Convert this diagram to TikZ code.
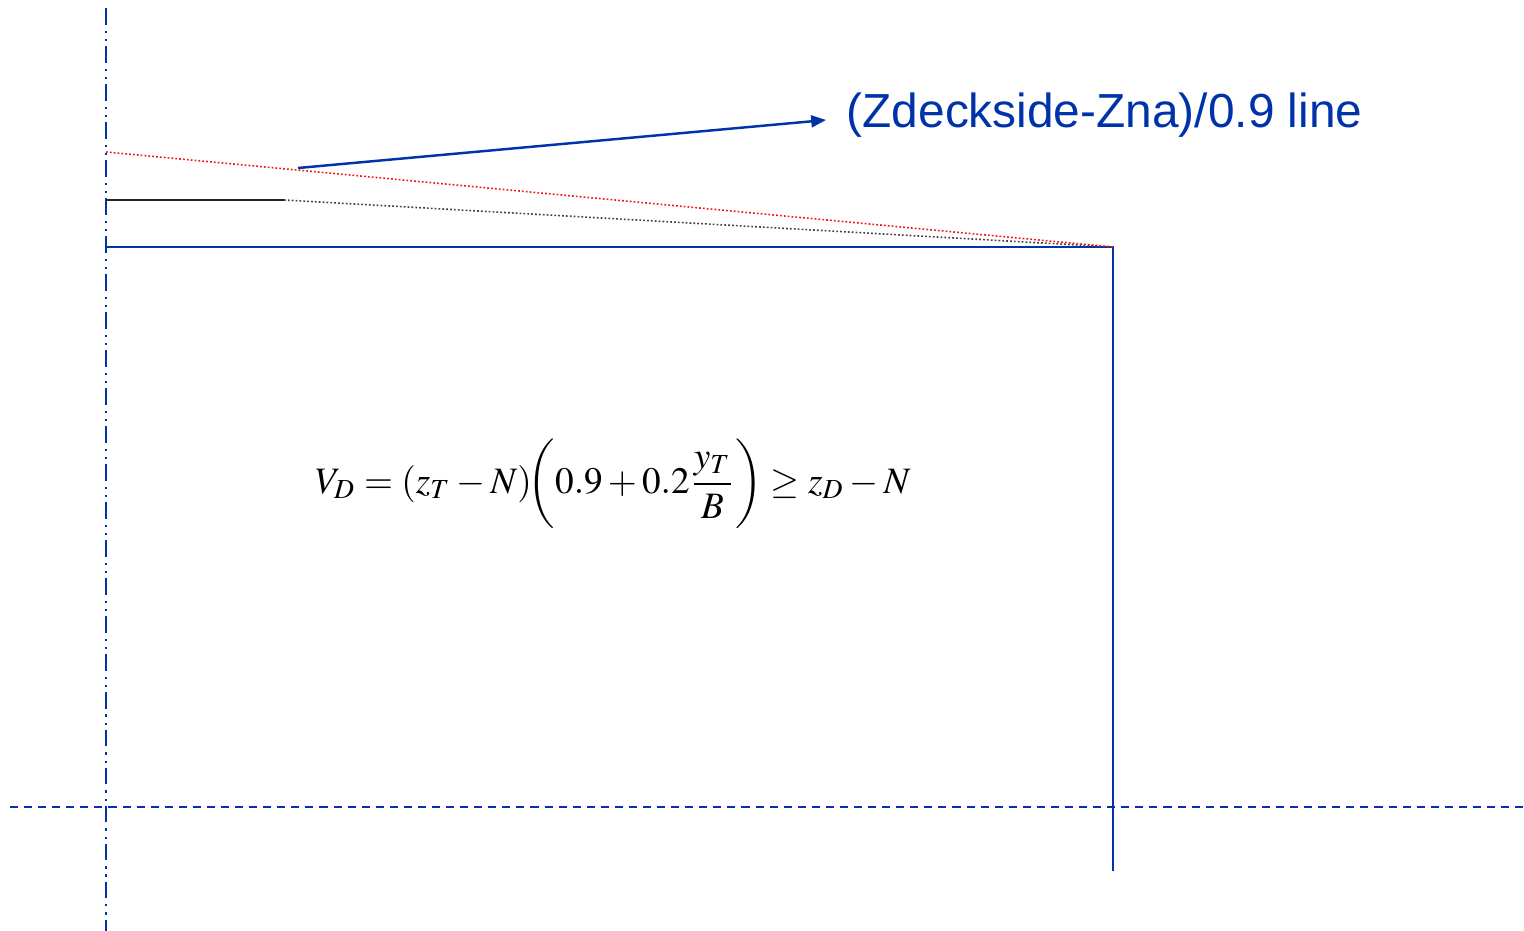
\documentclass[tikz,border=0pt]{standalone}
\usepackage{amsmath,amssymb}
\usepackage{mathptmx}
\usepackage[no-math]{fontspec}
\newfontfamily\arialfont{Liberation Sans}
\usetikzlibrary{
    positioning,                      % right=of, below=of, etc.
    arrows.meta                       % puntas modernas (Stealth, Latex, etc.)
}
\definecolor{hullblue}{RGB}{0,51,170}
\definecolor{sheerred}{RGB}{240,20,20}
\tikzset{
    hull/.style={
        draw=hullblue, line width=0.6pt
    },
    centreline/.style={
        draw=hullblue, line width=0.6pt,
        dash pattern=on 4.8pt off 1.7pt on 0.6pt off 1.7pt on 0.6pt off 1.4pt
    },
    waterline/.style={
        draw=hullblue, line width=0.6pt,
        dash pattern=on 2.3pt off 1.7pt
    },
    deckline/.style={
        draw=black!85, line width=0.45pt
    },
    fineline/.style={
        line width=0.45pt, dash pattern=on 0.5pt off 0.6pt
    },
    pointer/.style={
        -{Triangle[length=4.2pt, width=3.4pt]}, draw=hullblue, line width=0.7pt
    },
    tag/.style={
        font=\arialfont\fontsize{13.6}{16}\selectfont, text=hullblue,
        inner sep=0pt, anchor=west
    }
}

\begin{document}
\begin{tikzpicture}[x=0.01cm, y=-0.01cm]
    \useasboundingbox (0,0) rectangle (1524,931);

    % puntos del casco
    \coordinate (cl top)   at (106,8);
    \coordinate (cl bot)   at (106,931);
    \coordinate (deck cl)  at (106,247);
    \coordinate (corner)   at (1113,247);
    \coordinate (side bot) at (1113,871);
    \coordinate (wl left)  at (10,807);
    \coordinate (wl right) at (1524,807);
    \coordinate (dk cl)    at (106,200);
    \coordinate (dk end)   at (284,200);
    \coordinate (lim cl)   at (106,152);
    \coordinate (ptr)      at (298,168);

    % ejes
    \draw[centreline] (cl top) -- (cl bot);
    \draw[waterline]  (wl left) -- (wl right);

    % contorno de cubierta y costado
    \draw[hull] (deck cl) -- (corner) -- (side bot);

    % cubierta real y linea limite
    \draw[deckline] (dk cl) -- (dk end);
    \draw[fineline, draw=black!75] (dk end) -- (corner);
    \draw[fineline, draw=sheerred] (lim cl) -- (corner);

    % etiqueta
    \node[tag] (label) at (846,115) {(Zdeckside-Zna)/0.9 line};
    \draw[pointer] (ptr) -- ([xshift=-0.2cm, yshift=-0.05cm]label.west);

    % formula
    \node[font=\fontsize{10.6}{13}\selectfont, inner sep=0pt] (formula) at (613,484)
        {$V_D = (z_T - N)\!\biggl(0.9 + 0.2\dfrac{y_T}{B}\biggr) \geq z_D - N$};
\end{tikzpicture}
\end{document}
